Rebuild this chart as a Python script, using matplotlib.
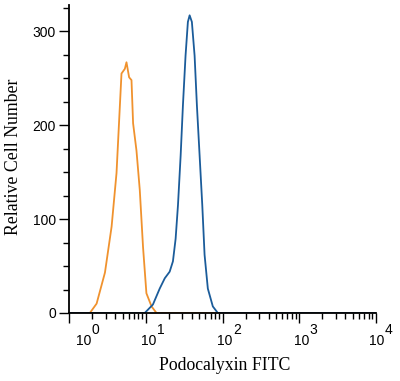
import matplotlib
matplotlib.use('Agg')
import matplotlib.pyplot as plt
import matplotlib.transforms as mtransforms
from matplotlib.ticker import FixedLocator, NullFormatter

# isotype control (orange) and Podocalyxin stained (blue)
iso_x = [1.0, 1.87, 2.29, 2.94, 3.59, 4.16, 4.59, 4.83, 5.34, 5.61, 6.07,
         6.52, 6.84, 7.57, 8.36, 9.22, 10.2, 11.9, 13.8, 10000]
iso_y = [0, 0, 10, 43, 92, 149, 219, 255, 260, 267, 251,
         248, 202, 173, 131, 70, 21, 7, 0, 0]

pod_x = [1.0, 9.7, 12.4, 15.2, 17.7, 20.5, 22.6, 24.5, 26.3, 28.5, 30.5,
         33.0, 35.4, 37.3, 39.9, 43.3, 46.4, 50.3, 54.5, 58.4, 64.4,
         74.8, 86.9, 10000]
pod_y = [0, 0, 9, 26, 37, 44, 55, 79, 115, 168, 221,
         274, 310, 317, 310, 274, 221, 168, 115, 62, 26,
         7, 0, 0]

decades = [1, 10, 100, 1000, 10000]
dec_labels = ['0', '1', '2', '3', '4']
y_major = [0, 100, 200, 300]
y_minor = [25, 50, 75, 125, 150, 175, 225, 250, 275, 325]

fig = plt.figure(figsize=(4.0, 3.81), dpi=100)
ax = fig.add_axes([0.1725, 0.1785, 0.7675, 0.8084])

ax.plot(iso_x, iso_y, color='#f0922e', lw=1.3)
ax.plot(pod_x, pod_y, color='#1b5c9a', lw=1.3)

ax.set_xscale('log')
ax.set_xlim(1, 10000)
ax.set_ylim(0, 328)

for s in ['top', 'right']:
    ax.spines[s].set_visible(False)
for s in ['left', 'bottom']:
    ax.spines[s].set_linewidth(1.3)
    ax.spines[s].set_color('black')

ax.xaxis.set_major_locator(FixedLocator(decades))
minors = [m * d for d in decades[:-1] for m in range(2, 10)]
ax.xaxis.set_minor_locator(FixedLocator(minors))
ax.xaxis.set_major_formatter(NullFormatter())
ax.xaxis.set_minor_formatter(NullFormatter())
ax.tick_params(axis='x', which='major', length=7.5, width=1.0, direction='out')
ax.tick_params(axis='x', which='minor', length=4.5, width=1.0, direction='out')

ax.set_yticks(y_major)
ax.set_yticks(y_minor, minor=True)
ax.set_yticklabels([str(v) for v in y_major], fontfamily='Liberation Sans', fontsize=10)
ax.tick_params(axis='y', which='major', length=7.5, width=1.0, pad=2)
ax.tick_params(axis='y', which='minor', length=4.5, width=1.0)

# decade labels, "10" plus raised exponent; the offsets follow the reference
label_dx = [6.7, -4.5, -5, -5, -6.7]
for d, e, dx in zip(decades, dec_labels, label_dx):
    tr = mtransforms.offset_copy(ax.get_xaxis_transform(), fig=fig, x=dx, y=-32, units='dots')
    ax.text(d, 0, '10', transform=tr, ha='left', va='baseline',
            fontfamily='Liberation Sans', fontsize=10)
    tr2 = mtransforms.offset_copy(ax.get_xaxis_transform(), fig=fig, x=dx + 15.5, y=-21, units='dots')
    ax.text(d, 0, e, transform=tr2, ha='left', va='baseline',
            fontfamily='Liberation Sans', fontsize=10)

fig.text(225 / 400, 1 - 365 / 381, 'Podocalyxin FITC', ha='center', va='center',
         fontfamily='Liberation Serif', fontsize=12.8)
fig.text(13.5 / 400, 1 - 157 / 381, 'Relative Cell Number', ha='center', va='center',
         rotation=90, fontfamily='Liberation Serif', fontsize=12.8)

fig.savefig('out.png', dpi=100)
